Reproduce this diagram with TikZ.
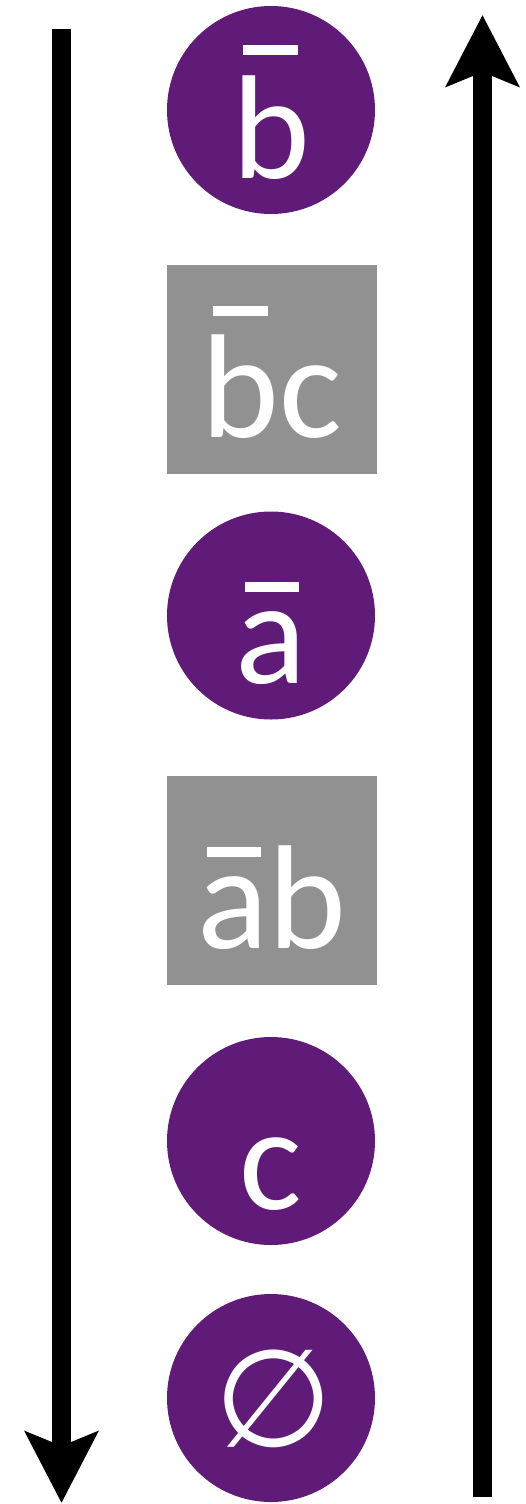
\documentclass[tikz,border=0pt]{standalone}
\usepackage{fontspec}
\setmainfont{Carlito}
\newfontfamily\symfont{DejaVu Sans}
\usetikzlibrary{arrows.meta}
\definecolor{nodepurple}{HTML}{601A78}
\definecolor{nodegray}{HTML}{919191}
\newcommand\ovlbar[4]{\leavevmode\rlap{\kern#1\raisebox{#2}{\rule{#3}{10pt}}}#4}
\begin{document}
\begin{tikzpicture}[x=1pt,y=-1pt,
  big/.style={text=white,font=\fontsize{148}{148}\selectfont,inner sep=0pt,
    text height=136pt,text depth=0pt,align=center},
  purp/.style={big,circle,fill=nodepurple,minimum size=208pt},
  grey/.style={big,rectangle,fill=nodegray,minimum width=210pt,minimum height=209pt},
  symtext/.style={text=white,font=\symfont\fontsize{136}{136}\selectfont,inner sep=0pt},
  bigarrow/.style={line width=18.5pt,-{Stealth[length=71pt,width=72pt,inset=14pt]}}]
\useasboundingbox (0,0) rectangle (526,1504);
\node[purp] (n1) at (271,110) {\ovlbar{11pt}{123pt}{55pt}{b}};
\node[grey] (n2) at (272,369.5) {\ovlbar{11pt}{122pt}{55pt}{b}c};
\node[purp] (n3) at (271,615.5) {\ovlbar{9pt}{92pt}{54pt}{a}};
\node[grey] (n4) at (272,880.5) {\ovlbar{9pt}{92pt}{54pt}{a}b};
\node[purp] (n5) at (271,1141) {c};
\node[purp] (n6) at (271,1398) {};
\node[symtext] (n6t) at (274,1399) {∅};
\coordinate (l1) at (61.5,29);
\coordinate (l2) at (61.5,1503);
\coordinate (r1) at (482.5,1497);
\coordinate (r2) at (482.5,15);
\draw[bigarrow] (l1) -- (l2);
\draw[bigarrow] (r1) -- (r2);
\end{tikzpicture}
\end{document}
